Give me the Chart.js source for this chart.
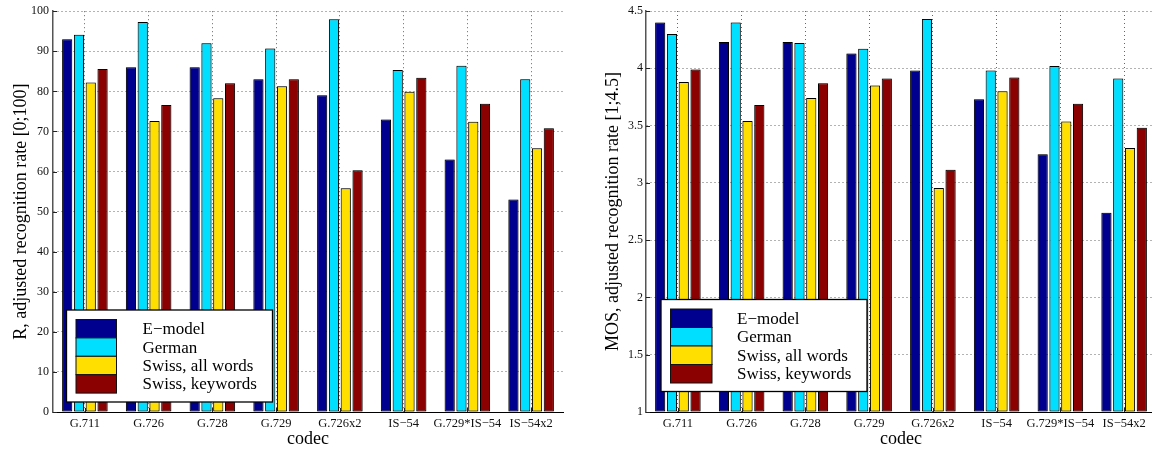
<!DOCTYPE html>
<html>
<head>
<meta charset="utf-8">
<script src="https://cdn.jsdelivr.net/npm/chart.js@4/dist/chart.umd.min.js"></script>
<style>
  html, body { margin: 0; padding: 0; background: #fff; overflow: hidden; }
  #wrap { position: relative; width: 1152px; height: 455px; overflow: hidden; }
  .panel { position: absolute; top: 0; height: 455px; }
  #panelR { left: 0; width: 580px; }
  #panelM { left: 580px; width: 600px; }
</style>
</head>
<body>
<div id="wrap">
  <div class="panel" id="panelR"><canvas id="chartR"></canvas></div>
  <div class="panel" id="panelM"><canvas id="chartM"></canvas></div>
</div>
<script>
// Codecs under test
const codecs = ['G.711', 'G.726', 'G.728', 'G.729', 'G.726x2', 'IS\u221254', 'G.729*IS\u221254', 'IS\u221254x2'];
const seriesNames = ['E\u2212model', 'German', 'Swiss, all words', 'Swiss, keywords'];
const seriesColors = ['#00008f', '#00dfff', '#ffdf00', '#8b0000'];

// R, adjusted recognition rate [0;100]
const rEmodel   = [93, 86, 86, 83, 79, 73, 63, 53];
const rGerman   = [94.1, 97.3, 92, 90.7, 98, 85.3, 86.4, 83];
const rSwissAll = [82.2, 72.6, 78.3, 81.3, 55.8, 79.9, 72.4, 65.8];
const rSwissKw  = [85.6, 76.6, 82, 83, 60.3, 83.4, 76.9, 70.8];
const rTicks    = [0, 10, 20, 30, 40, 50, 60, 70, 80, 90, 100];

// MOS, adjusted recognition rate [1;4.5]
const mosEmodel   = [4.40, 4.23, 4.23, 4.13, 3.98, 3.73, 3.25, 2.74];
const mosGerman   = [4.30, 4.40, 4.22, 4.17, 4.43, 3.98, 4.02, 3.91];
const mosSwissAll = [3.88, 3.54, 3.74, 3.85, 2.955, 3.80, 3.535, 3.305];
const mosSwissKw  = [3.99, 3.68, 3.87, 3.91, 3.115, 3.92, 3.69, 3.48];
const mosTicks    = [1, 1.5, 2, 2.5, 3, 3.5, 4, 4.5];

const SERIF = "'Liberation Serif', 'DejaVu Serif', serif";

// Soft halo behind the bars
const barHalo = {
  id: 'barHalo',
  beforeDatasetsDraw(chart) {
    const ctx = chart.ctx;
    ctx.save();
    ctx.shadowColor = 'rgba(0,0,0,0.35)';
    ctx.shadowBlur = 2;
  },
  afterDatasetsDraw(chart) { chart.ctx.restore(); }
};

// Short inward tick marks on both axes
const innerTicks = {
  id: 'innerTicks',
  afterDatasetsDraw(chart) {
    const ctx = chart.ctx;
    const a = chart.chartArea;
    const xs = chart.scales.x, ys = chart.scales.y;
    ctx.save();
    ctx.strokeStyle = '#222';
    ctx.lineWidth = 1;
    ctx.beginPath();
    ys.ticks.forEach(t => {
      const y = Math.round(ys.getPixelForValue(t.value)) + 0.5;
      ctx.moveTo(a.left, y); ctx.lineTo(a.left + 4, y);
    });
    xs.ticks.forEach((t, i) => {
      const x = Math.round(xs.getPixelForTick(i)) + 0.5;
      ctx.moveTo(x, a.bottom); ctx.lineTo(x, a.bottom - 4);
    });
    ctx.stroke();
    ctx.restore();
  }
};

// Boxed legend with stacked swatches, placed over the plot
const boxLegend = {
  id: 'boxLegend',
  afterDraw(chart, args, opts) {
    const ctx = chart.ctx;
    const sets = chart.data.datasets;
    const x = opts.left, y = opts.top;
    ctx.save();
    ctx.fillStyle = '#fff';
    ctx.fillRect(x, y, opts.width, opts.height);
    ctx.strokeStyle = '#000';
    ctx.lineWidth = 1.3;
    ctx.strokeRect(x, y, opts.width, opts.height);
    ctx.font = '17px ' + SERIF;
    ctx.textBaseline = 'middle';
    ctx.textAlign = 'left';
    sets.forEach((ds, i) => {
      const sy = y + opts.inset + i * opts.swatchH;
      ctx.fillStyle = ds.backgroundColor;
      ctx.fillRect(x + opts.inset, sy, opts.swatchW, opts.swatchH);
      ctx.lineWidth = 1;
      ctx.strokeStyle = '#111';
      ctx.strokeRect(x + opts.inset, sy, opts.swatchW, opts.swatchH);
      ctx.fillStyle = '#000';
      ctx.fillText(ds.label, x + opts.textX, sy + opts.swatchH / 2 + 1);
    });
    ctx.restore();
  }
};

function makeDatasets(seriesList, base) {
  return seriesList.map((vals, i) => ({
    label: seriesNames[i],
    data: vals,
    backgroundColor: seriesColors[i],
    borderColor: '#000',
    borderWidth: 1,
    borderSkipped: false,
    base: base,
    categoryPercentage: 0.74,
    barPercentage: 0.86
  }));
}

function makeChart(canvasId, cfg) {
  return new Chart(document.getElementById(canvasId), {
    type: 'bar',
    data: { labels: codecs, datasets: makeDatasets(cfg.series, cfg.base) },
    plugins: [barHalo, innerTicks, boxLegend],
    options: {
      responsive: true,
      maintainAspectRatio: false,
      animation: false,
      events: [],
      layout: { padding: { top: 11, right: cfg.rightPad, left: 0, bottom: 0 } },
      plugins: {
        legend: { display: false },
        tooltip: { enabled: false },
        boxLegend: cfg.legend
      },
      scales: {
        x: {
          offset: true,
          grid: {
            offset: false, drawTicks: false, drawOnChartArea: true,
            color: '#666', lineWidth: 1
          },
          border: { display: true, color: '#000', width: 1, dash: [1, 3] },
          ticks: {
            color: '#111', padding: 4, maxRotation: 0, autoSkip: false,
            font: { family: SERIF, size: 12.5 }
          },
          title: {
            display: true, text: 'codec', color: '#000',
            font: { family: SERIF, size: 18 },
            padding: { top: 0, bottom: 5 }
          },
          afterFit(scale) { scale.height = 43; }
        },
        y: {
          min: cfg.min, max: cfg.max,
          afterBuildTicks(scale) { scale.ticks = cfg.ticks.map(v => ({ value: v })); },
          grid: { drawTicks: false, color: '#666', lineWidth: 1 },
          border: { display: true, color: '#555', width: 1.5, dash: [1, 3] },
          ticks: {
            color: '#111', padding: cfg.tickPad,
            font: { family: SERIF, size: 12 },
            callback: v => String(v)
          },
          title: {
            display: true, text: cfg.yTitle, color: '#000',
            font: { family: SERIF, size: 18 },
            padding: { top: cfg.titlePad, bottom: 0 }
          },
          afterFit(scale) { scale.width = cfg.yWidth; }
        }
      }
    }
  });
}

makeChart('chartR', {
  series: [rEmodel, rGerman, rSwissAll, rSwissKw],
  base: 0, min: 0, max: 100, ticks: rTicks,
  yTitle: 'R, adjusted recognition rate [0;100]',
  yWidth: 53, rightPad: 17, tickPad: 4, titlePad: 10,
  legend: { left: 66.5, top: 310, width: 206, height: 92, inset: 9.5, swatchW: 40.5, swatchH: 18.4, textX: 76 }
});

makeChart('chartM', {
  series: [mosEmodel, mosGerman, mosSwissAll, mosSwissKw],
  base: 1, min: 1, max: 4.5, ticks: mosTicks,
  yTitle: 'MOS, adjusted recognition rate [1;4.5]',
  yWidth: 66, rightPad: 24, tickPad: 3, titlePad: 22,
  legend: { left: 81, top: 299.5, width: 206, height: 92, inset: 9.5, swatchW: 41.5, swatchH: 18.5, textX: 76 }
});
</script>
</body>
</html>
